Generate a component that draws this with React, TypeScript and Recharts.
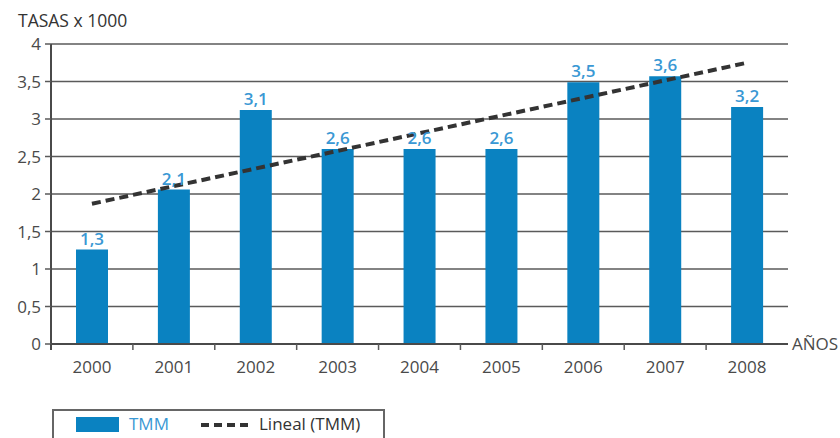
import React from 'react';
import { ComposedChart, Bar, Line, XAxis, YAxis, CartesianGrid, LabelList, Label, Legend } from 'recharts';

const years = ['2000', '2001', '2002', '2003', '2004', '2005', '2006', '2007', '2008'];
const tmm = [1.26, 2.06, 3.12, 2.6, 2.6, 2.6, 3.49, 3.57, 3.16];
const trend = [1.87, null, null, null, null, null, null, null, 3.75];
const yTicks = [0, 0.5, 1, 1.5, 2, 2.5, 3, 3.5, 4];

const data = years.map((y, i) => ({ year: y, tmm: tmm[i], trend: trend[i] }));

const FONT = '"Open Sans", sans-serif';
const BLUE = '#0a82c1';
const LABEL_BLUE = '#3a98d4';
const GRAY = '#4a4a4a';
const TICK_MARGIN = 17;

const fmt = (v: number) => String(v).replace('.', ',');
const fmt1 = (v: number) => v.toFixed(1).replace('.', ',');

const YearTick = (props: any) => {
  const { x, y, payload, index, width, visibleTicksCount } = props;
  const band = width / (visibleTicksCount || years.length);
  const axisY = y - TICK_MARGIN;
  return (
    <g>
      {index === 0 && (
        <line x1={x - band / 2} x2={x - band / 2} y1={axisY} y2={axisY + 6} stroke="#4a4a4a" strokeWidth={2} />
      )}
      {index < (visibleTicksCount || years.length) - 1 && (
        <line x1={x + band / 2} x2={x + band / 2} y1={axisY} y2={axisY + 6} stroke="#5a5a5a" strokeWidth={1.5} />
      )}
      <text x={x} y={y} dy={12} textAnchor="middle" fontFamily={FONT} fontSize={17} fill={GRAY}>{payload.value}</text>
    </g>
  );
};

const LegendBox = () => (
  <div style={{ width: 329, height: 40, borderTop: '2px solid #666', borderLeft: '2px solid #666', borderRight: '2px solid #666', position: 'relative', fontFamily: FONT, fontSize: 17 }}>
    <div style={{ position: 'absolute', left: 22, top: 6, width: 43, height: 15, background: BLUE }} />
    <span style={{ position: 'absolute', left: 75, top: 1, color: LABEL_BLUE }}>TMM</span>
    <svg style={{ position: 'absolute', left: 147, top: 10 }} width={48} height={8}>
      <line x1={0} y1={4} x2={48} y2={4} stroke="#333" strokeWidth={4} strokeDasharray="8 5" />
    </svg>
    <span style={{ position: 'absolute', left: 205, top: 1, color: '#333' }}>Lineal (TMM)</span>
  </div>
);

export default function App() {
  return (
    <div style={{ position: 'absolute', left: 0, top: 0, width: 840, height: 438, background: '#fff', overflow: 'hidden' }}>
      <ComposedChart width={840} height={438} data={data} margin={{ top: 44, right: 52, left: 0, bottom: 54 }}>
        <CartesianGrid vertical={false} stroke="#5a5a5a" strokeWidth={1.5} />
        <XAxis dataKey="year" height={40} tickSize={0} tickLine={false} tickMargin={TICK_MARGIN}
          axisLine={{ stroke: '#4a4a4a', strokeWidth: 2 }} tick={<YearTick />} interval={0}>
          <Label content={(props: any) => {
            const vb = props.viewBox || {};
            return <text x={vb.x + vb.width + 4} y={vb.y} dy={6} fontFamily={FONT} fontSize={17} fill={GRAY}>AÑOS</text>;
          }} />
        </XAxis>
        <YAxis width={51} domain={[0, 4]} ticks={yTicks} tickFormatter={fmt} tickSize={6} tickMargin={4}
          tickLine={{ stroke: '#5a5a5a', strokeWidth: 1.5 }} axisLine={{ stroke: '#4a4a4a', strokeWidth: 2 }}
          tick={{ fontFamily: FONT, fontSize: 17, fill: GRAY }} interval={0}>
          <Label content={(props: any) => {
            const vb = props.viewBox || {};
            return <text x={18} y={vb.y - 17} fontFamily={FONT} fontSize={17.5} fill="#333">TASAS x 1000</text>;
          }} />
        </YAxis>
        <Bar dataKey="tmm" fill={BLUE} barSize={32} isAnimationActive={false}>
          <LabelList dataKey="tmm" position="top" offset={5} formatter={(v: any) => fmt1(Number(v))}
            style={{ fontFamily: FONT, fontSize: 17, fontWeight: 600, fill: LABEL_BLUE }} />
        </Bar>
        <Line dataKey="trend" stroke="#333" strokeWidth={4} strokeDasharray="9 5" dot={false}
          activeDot={false} connectNulls isAnimationActive={false} />
        <Legend verticalAlign="middle" align="center" content={() => <LegendBox />}
          wrapperStyle={{ left: 52, top: 409, width: 333, height: 40 }} />
      </ComposedChart>
    </div>
  );
}
